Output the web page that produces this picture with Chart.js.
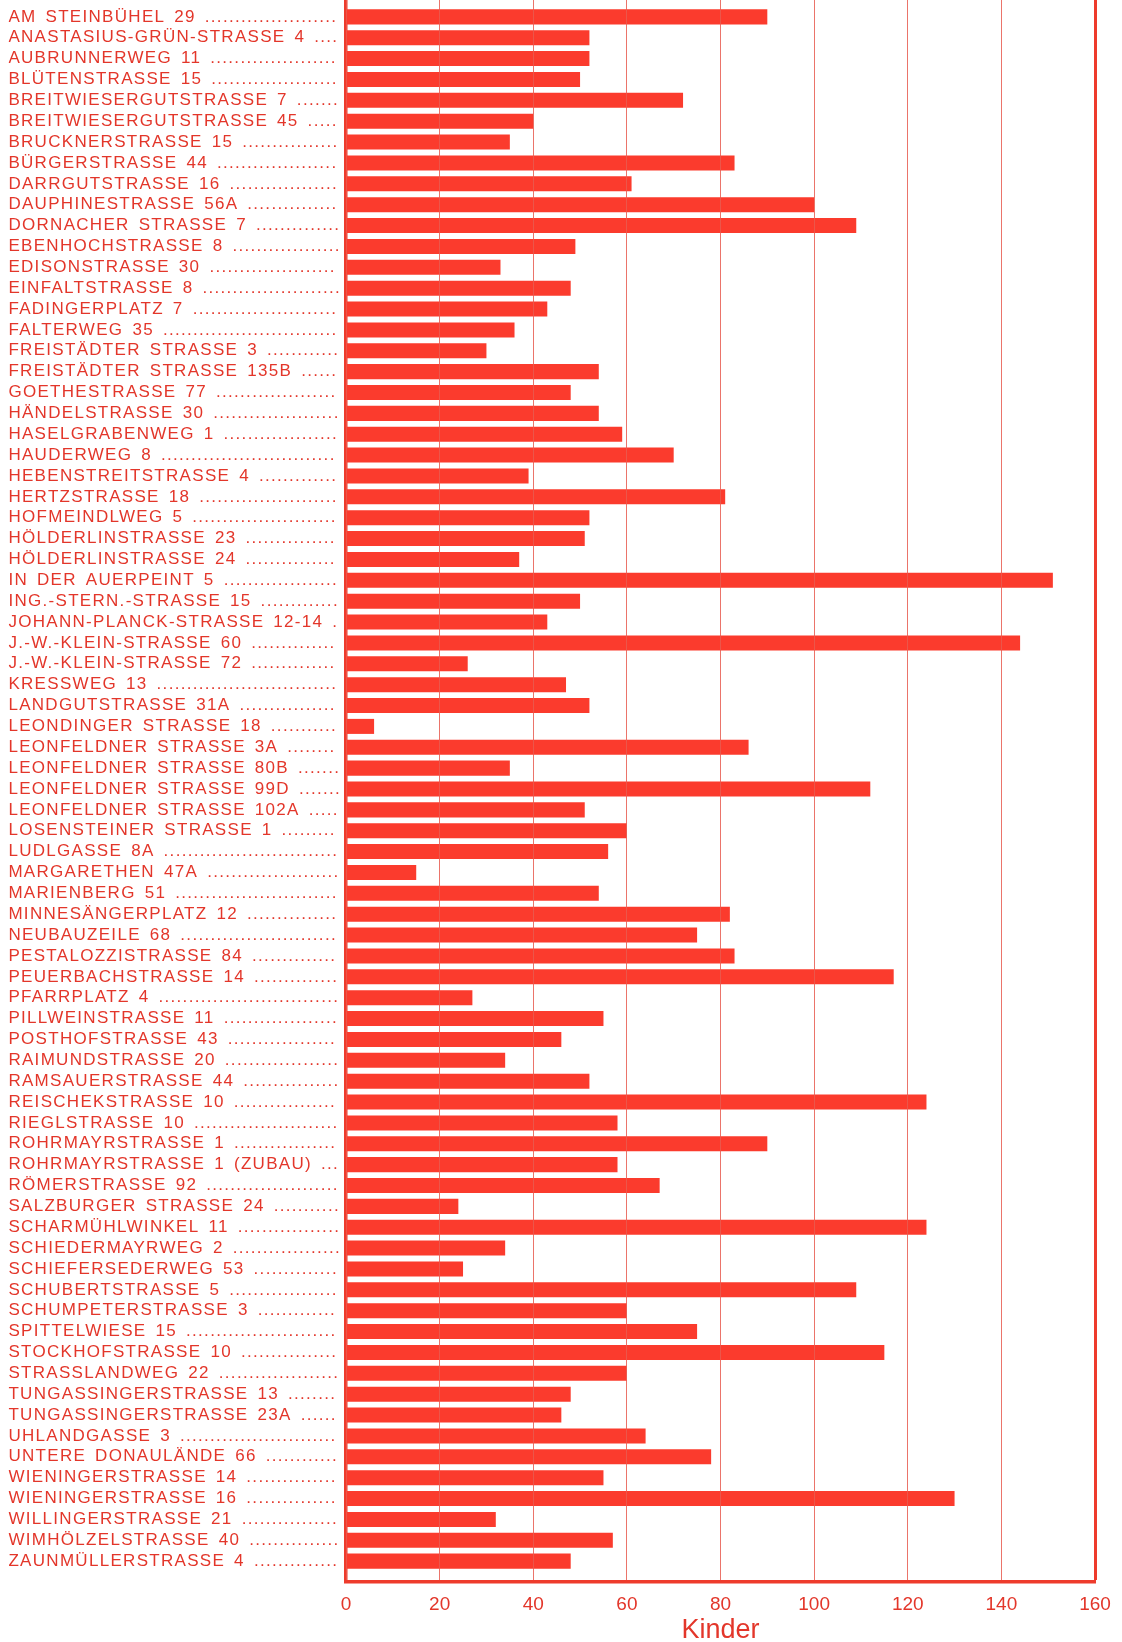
<!DOCTYPE html>
<html><head><meta charset="utf-8">
<script src="https://cdn.jsdelivr.net/npm/chart.js@4.4.1/dist/chart.umd.min.js"></script>
<style>
html,body{margin:0;padding:0;background:#fff;overflow:hidden;width:1122px;height:1642px;position:relative}
#c{position:absolute;left:0;top:-20px}
</style></head>
<body><canvas id="c" width="1122" height="1664"></canvas>
<script>
const categories = [
  "AM STEINBÜHEL 29","ANASTASIUS-GRÜN-STRASSE 4","AUBRUNNERWEG 11","BLÜTENSTRASSE 15",
  "BREITWIESERGUTSTRASSE 7","BREITWIESERGUTSTRASSE 45","BRUCKNERSTRASSE 15","BÜRGERSTRASSE 44",
  "DARRGUTSTRASSE 16","DAUPHINESTRASSE 56A","DORNACHER STRASSE 7","EBENHOCHSTRASSE 8",
  "EDISONSTRASSE 30","EINFALTSTRASSE 8","FADINGERPLATZ 7","FALTERWEG 35",
  "FREISTÄDTER STRASSE 3","FREISTÄDTER STRASSE 135B","GOETHESTRASSE 77","HÄNDELSTRASSE 30",
  "HASELGRABENWEG 1","HAUDERWEG 8","HEBENSTREITSTRASSE 4","HERTZSTRASSE 18",
  "HOFMEINDLWEG 5","HÖLDERLINSTRASSE 23","HÖLDERLINSTRASSE 24","IN DER AUERPEINT 5",
  "ING.-STERN.-STRASSE 15","JOHANN-PLANCK-STRASSE 12-14","J.-W.-KLEIN-STRASSE 60","J.-W.-KLEIN-STRASSE 72",
  "KRESSWEG 13","LANDGUTSTRASSE 31A","LEONDINGER STRASSE 18","LEONFELDNER STRASSE 3A",
  "LEONFELDNER STRASSE 80B","LEONFELDNER STRASSE 99D","LEONFELDNER STRASSE 102A","LOSENSTEINER STRASSE 1",
  "LUDLGASSE 8A","MARGARETHEN 47A","MARIENBERG 51","MINNESÄNGERPLATZ 12",
  "NEUBAUZEILE 68","PESTALOZZISTRASSE 84","PEUERBACHSTRASSE 14","PFARRPLATZ 4",
  "PILLWEINSTRASSE 11","POSTHOFSTRASSE 43","RAIMUNDSTRASSE 20","RAMSAUERSTRASSE 44",
  "REISCHEKSTRASSE 10","RIEGLSTRASSE 10","ROHRMAYRSTRASSE 1","ROHRMAYRSTRASSE 1 (ZUBAU)",
  "RÖMERSTRASSE 92","SALZBURGER STRASSE 24","SCHARMÜHLWINKEL 11","SCHIEDERMAYRWEG 2",
  "SCHIEFERSEDERWEG 53","SCHUBERTSTRASSE 5","SCHUMPETERSTRASSE 3","SPITTELWIESE 15",
  "STOCKHOFSTRASSE 10","STRASSLANDWEG 22","TUNGASSINGERSTRASSE 13","TUNGASSINGERSTRASSE 23A",
  "UHLANDGASSE 3","UNTERE DONAULÄNDE 66","WIENINGERSTRASSE 14","WIENINGERSTRASSE 16",
  "WILLINGERSTRASSE 21","WIMHÖLZELSTRASSE 40","ZAUNMÜLLERSTRASSE 4"
];
const kinder = [
  90,52,52,50,72,40,35,83,61,100,
  109,49,33,48,43,36,30,54,48,54,
  59,70,39,81,52,51,37,151,50,43,
  144,26,47,52,6,86,35,112,51,60,
  56,15,54,82,75,83,117,27,55,46,
  34,52,124,58,90,58,67,24,124,34,
  25,109,60,75,115,60,48,46,64,78,
  55,130,32,57,48
];
const xTickValues = [0,20,40,60,80,100,120,140,160];
const axisTitle = "Kinder";

const RED_TEXT = '#e3362a';
const RED_BAR = '#fb3b2d';
const RED_LINE = '#ee3b2c';
const GRID = 'rgba(232,92,80,0.85)';
const LABEL_FAMILY = '"Liberation Sans", Arial, sans-serif';
const LABEL_SIZE = 17;
const LETTER = '1.3px';
const WORD = '3px';
const LEADER_END = 333;

const mctx = document.createElement('canvas').getContext('2d');
mctx.font = LABEL_SIZE + 'px ' + LABEL_FAMILY;
mctx.letterSpacing = LETTER;
mctx.wordSpacing = WORD;
function leader(name) {
  let s = name + ' ';
  while (mctx.measureText(s + '.').width <= LEADER_END) s += '.';
  return s;
}

const spacing = {
  id: 'spacing',
  beforeDraw(c) { c.ctx.letterSpacing = LETTER; c.ctx.wordSpacing = WORD; },
  afterDatasetsDraw(c) { c.ctx.letterSpacing = '0px'; c.ctx.wordSpacing = '0px'; }
};

new Chart(document.getElementById('c'), {
  type: 'bar',
  data: {
    datasets: [{
      data: kinder.map((v, i) => ({ x: v, y: i })),
      backgroundColor: RED_BAR,
      borderWidth: 0,
      barPercentage: 0.72,
      categoryPercentage: 1
    }]
  },
  options: {
    indexAxis: 'y',
    responsive: false,
    animation: false,
    events: [],
    layout: { padding: { left: 8.4, right: 27, top: 16, bottom: 0 } },
    plugins: { legend: { display: false }, tooltip: { enabled: false } },
    scales: {
      y: {
        type: 'linear', reverse: true, min: -1, max: 75, offset: false,
        afterFit(s) { s.width = 337.6; },
        grid: { display: false, drawTicks: false, offset: false },
        border: { display: true, color: RED_LINE, width: 3.5 },
        ticks: {
          stepSize: 1, autoSkip: false, includeBounds: false, crossAlign: 'far', padding: 0,
          color: RED_TEXT, font: { family: LABEL_FAMILY, size: LABEL_SIZE },
          callback: (v) => categories[v] !== undefined ? leader(categories[v]) : ''
        }
      },
      x: {
        type: 'linear', min: 0, max: 160, position: 'bottom',
        afterBuildTicks(s) { s.ticks = xTickValues.map(v => ({ value: v })); },
        afterFit(s) { s.height = 62; },
        grid: {
          z: 1, drawTicks: false,
          color: (ctx) => ctx.tick && ctx.tick.value === 160 ? RED_LINE : GRID,
          lineWidth: (ctx) => ctx.tick && ctx.tick.value === 160 ? 3 : 1
        },
        border: { z: 1, color: RED_LINE, width: 3.5 },
        ticks: {
          z: 1, padding: 11, color: RED_TEXT,
          font: { family: '"Liberation Sans Narrow", "Liberation Sans", sans-serif', size: 19 },
          callback: (v) => String(v)
        },
        title: {
          display: true, text: axisTitle, color: RED_TEXT,
          font: { family: '"Liberation Sans Narrow", "Liberation Sans", sans-serif', size: 27, lineHeight: 1 },
          padding: { top: 0, bottom: 0 }
        }
      }
    }
  },
  plugins: [spacing]
});
</script>
</body></html>
